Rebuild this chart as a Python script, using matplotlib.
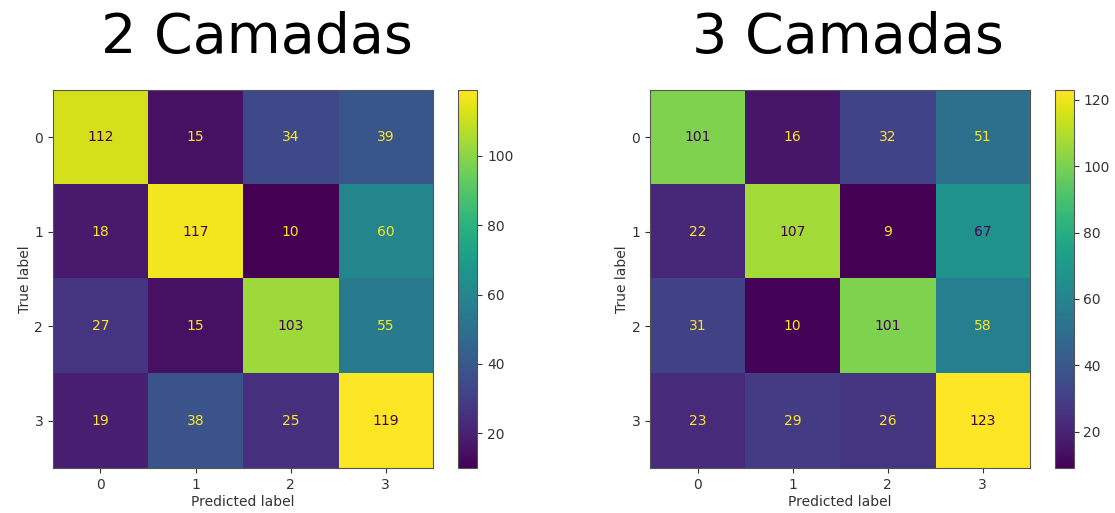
import numpy as np
import matplotlib
matplotlib.use("Agg")
import matplotlib.pyplot as plt

# Confusion matrices for the two network depths
class_labels = ["0", "1", "2", "3"]
titles = ["2 Camadas", "3 Camadas"]
cm_2_layers = np.array([
    [112, 15, 34, 39],
    [18, 117, 10, 60],
    [27, 15, 103, 55],
    [19, 38, 25, 119],
])
cm_3_layers = np.array([
    [101, 16, 32, 51],
    [22, 107, 9, 67],
    [31, 10, 101, 58],
    [23, 29, 26, 123],
])


def draw_confusion_matrix(fig, ax, cax, cm):
    """Draw a confusion matrix in the style of sklearn's ConfusionMatrixDisplay."""
    cmap = plt.get_cmap("viridis")
    im = ax.imshow(cm, cmap=cmap, interpolation="nearest", aspect="auto")
    vmin, vmax = cm.min(), cm.max()
    thresh = (vmin + vmax) / 2.0
    for i in range(cm.shape[0]):
        for j in range(cm.shape[1]):
            color = cmap(0.0) if cm[i, j] >= thresh else cmap(1.0)
            ax.text(j, i, f"{cm[i, j]}", ha="center", va="center",
                    color=color, fontsize=10)
    n = len(class_labels)
    ax.set_xticks(range(n), class_labels)
    ax.set_yticks(range(n), class_labels)
    ax.set_xlabel("Predicted label", fontsize=10, color="#333333", labelpad=2)
    ax.set_ylabel("True label", fontsize=10, color="#333333", labelpad=2)
    ax.tick_params(labelsize=10, colors="#333333")
    for spine in ax.spines.values():
        spine.set_color("#555555")
    cb = fig.colorbar(im, cax=cax)
    cb.ax.tick_params(labelsize=10, colors="#333333")
    cb.outline.set_edgecolor("#555555")
    return im


fig = plt.figure(figsize=(11.15, 5.13), dpi=100)

ax1 = fig.add_axes([0.0475, 0.0877, 0.341, 0.737])
cax1 = fig.add_axes([0.411, 0.0877, 0.017, 0.737])
ax2 = fig.add_axes([0.583, 0.0877, 0.341, 0.737])
cax2 = fig.add_axes([0.946, 0.0877, 0.017, 0.737])

draw_confusion_matrix(fig, ax1, cax1, cm_2_layers)
draw_confusion_matrix(fig, ax2, cax2, cm_3_layers)

# Large panel headings
fig.text(0.2305, 0.897, titles[0], fontsize=40, ha="center", va="baseline")
fig.text(0.7605, 0.897, titles[1], fontsize=40, ha="center", va="baseline")

fig.savefig("out.png", dpi=100)
